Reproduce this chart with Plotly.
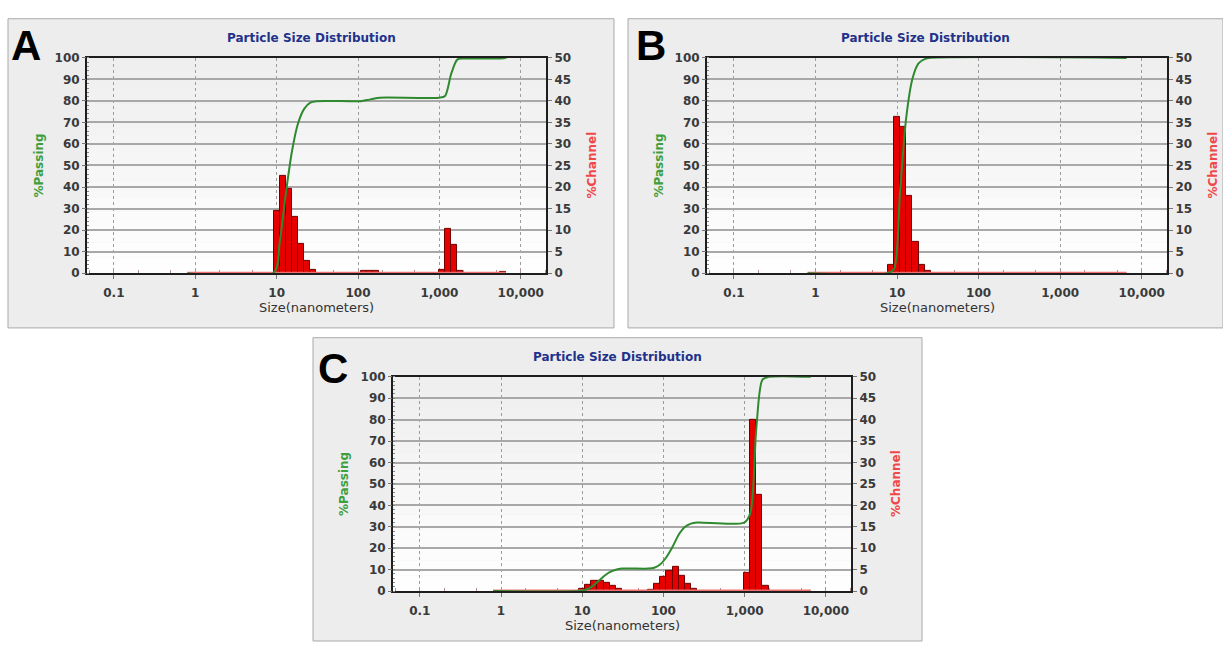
import numpy as np
import plotly.graph_objects as go

# ---------------------------------------------------------------------------
# Particle size distributions (Nanotrac-style output) for three samples.
# Channel centres in nm and the volume percentage in each channel.
# ---------------------------------------------------------------------------
sizes_a = [10.0, 11.89, 14.14, 16.82, 20.0, 23.78, 28.28,
           118.9, 141.4, 168.2,
           1076, 1280, 1522, 1810,
           6089]
channel_a = [14.4, 22.5, 19.6, 13.1, 6.7, 2.9, 0.7,
             0.5, 0.6, 0.5,
             0.8, 10.3, 6.6, 0.5,
             0.3]

sizes_b = [8.41, 10.0, 11.89, 14.14, 16.82, 20.0, 23.78]
channel_b = [1.9, 36.4, 34.0, 17.9, 7.2, 2.0, 0.6]

sizes_c = [10.0, 11.89, 14.14, 16.82, 20.0, 23.78, 28.28,
           70.71, 84.09, 100.0, 118.9, 141.4, 168.2, 200.0, 237.8,
           1076, 1280, 1522, 1810]
channel_c = [0.5, 1.5, 2.3, 2.5, 2.0, 1.2, 0.5,
             0.4, 1.6, 3.4, 4.8, 5.6, 3.6, 1.6, 0.5,
             4.3, 40.0, 22.4, 1.3]

panel_labels = ["A", "B", "C"]
chart_title = "Particle Size Distribution"
size_ticks = [0.1, 1, 10, 100, 1000, 10000]
size_tick_text = ["0.1", "1", "10", "100", "1,000", "10,000"]

SIZE_MIN, SIZE_MAX = 0.8, 6540      # analyser measuring range, nm
CHANNEL_RATIO = 2 ** 0.25           # geometric channel progression

# ---------------------------------------------------------------------------
# Page geometry (pixels, origin top-left)
# ---------------------------------------------------------------------------
W, H = 1223, 648
LAYOUT = [
    dict(box=(8, 12, 614, 328), plot=(87, 52, 546, 272), letter=(26, 39)),
    dict(box=(628, 12, 1223, 328), plot=(707, 52, 1167, 272), letter=(651, 39)),
    dict(box=(313, 338, 922, 648), plot=(393, 378, 851, 597), letter=(333, 369)),
]
DATA = [(sizes_a, channel_a), (sizes_b, channel_b), (sizes_c, channel_c)]

GREEN = "#2f8a2f"
RED_FILL = "#e60000"
RED_EDGE = "#6e0000"
TICK_FONT = dict(family="DejaVu Sans", size=12, color="#3a3a3a", weight="bold")


def px(x):
    return x / W


def py(y):
    return 1 - y / H


def channel_edges(sizes):
    half = CHANNEL_RATIO ** 0.5
    c = np.asarray(sizes, dtype=float)
    return c / half, c * half


def passing_curve(sizes, channel):
    """Cumulative %passing evaluated at channel edges."""
    lo, hi = channel_edges(sizes)
    xs, ys = [SIZE_MIN], [0.0]
    total = 0.0
    prev_hi = None
    for l, h, v in zip(lo, hi, channel):
        if prev_hi is None or abs(np.log10(l / prev_hi)) > 1e-3:
            xs.append(l)
            ys.append(total)
        total += v
        xs.append(h)
        ys.append(total)
        prev_hi = h
    xs.append(SIZE_MAX)
    ys.append(total)
    return xs, ys


fig = go.Figure()
shapes = []
annotations = []
layout_axes = {}

for i, ((sizes, channel), geo) in enumerate(zip(DATA, LAYOUT)):
    n = i + 1
    xname = "x" if n == 1 else f"x{n}"
    ych = "y" if n == 1 else f"y{n}"          # %Channel (right)
    ypa = f"y{n + 3}"                          # %Passing (left, overlay)
    xkey = "xaxis" if n == 1 else f"xaxis{n}"
    ychkey = "yaxis" if n == 1 else f"yaxis{n}"
    ypakey = f"yaxis{n + 3}"

    x0, y0, x1, y1 = geo["plot"]
    bx0, by0, bx1, by1 = geo["box"]

    # panel background
    shapes.append(dict(type="rect", xref="paper", yref="paper",
                       x0=px(bx0), x1=px(bx1), y0=py(by1), y1=py(by0),
                       fillcolor="#ededed", line=dict(color="#a9a9a9", width=1),
                       layer="below"))
    # plot-area vertical gradient
    nb = 14
    for k in range(nb):
        g = int(round(255 - (255 - 238) * (k + 0.5) / nb))
        shapes.append(dict(type="rect", xref=f"{xname} domain", yref=f"{ych} domain",
                           x0=0, x1=1, y0=k / nb, y1=(k + 1) / nb,
                           fillcolor=f"rgb({g},{g},{g})", line=dict(width=0),
                           layer="below"))

    # %Channel bars
    lo, hi = channel_edges(sizes)
    fig.add_trace(go.Bar(
        x=(lo + hi) / 2, y=channel, width=hi - lo,
        xaxis=xname, yaxis=ych,
        marker=dict(color=RED_FILL, line=dict(color=RED_EDGE, width=1)),
        showlegend=False, hoverinfo="skip"))
    # zero-level %Channel trace across the measuring range
    fig.add_trace(go.Scatter(
        x=[SIZE_MIN, SIZE_MAX], y=[0, 0], mode="lines",
        line=dict(color="#f07070", width=3),
        xaxis=xname, yaxis=ych, showlegend=False, hoverinfo="skip"))
    # %Passing cumulative curve
    cx, cy = passing_curve(sizes, channel)
    fig.add_trace(go.Scatter(
        x=cx, y=cy, mode="lines",
        line=dict(color=GREEN, width=2, shape="spline", smoothing=0.8),
        xaxis=xname, yaxis=ypa, showlegend=False, hoverinfo="skip"))

    dom_x = [px(x0), px(x1)]
    dom_y = [py(y1), py(y0)]

    layout_axes[xkey] = dict(
        type="log", range=[-1.33, 4.31], domain=dom_x, anchor=ych,
        tickmode="array", tickvals=size_ticks, ticktext=size_tick_text,
        ticks="outside", ticklen=4, tickcolor="#777", ticklabelstandoff=3,
        tickfont=TICK_FONT,
        showgrid=True, gridcolor="#9c9c9c", gridwidth=1, griddash="dot",
        showline=True, linecolor="#1e1e1e", linewidth=2, mirror=True,
        layer="below traces", zeroline=False,
        minor=dict(ticks="inside", ticklen=3, tickcolor="#b09090", dtick="D2",
                   showgrid=False),
    )
    layout_axes[ychkey] = dict(
        domain=dom_y, anchor=xname, side="right", range=[0, 50],
        tickmode="linear", tick0=0, dtick=5,
        ticks="outside", ticklen=4, tickcolor="#777", tickfont=TICK_FONT,
        showgrid=True, gridcolor="#a8a8a8", gridwidth=1.5,
        showline=True, linecolor="#1e1e1e", linewidth=2, mirror=True,
        layer="below traces", zeroline=False,
    )
    layout_axes[ypakey] = dict(
        overlaying=ych, anchor=xname, side="left", range=[0, 100],
        tickmode="linear", tick0=0, dtick=10,
        ticks="outside", ticklen=4, tickcolor="#777", tickfont=TICK_FONT,
        showgrid=False, showline=False, zeroline=False,
        minor=dict(ticks="inside", ticklen=2, tickcolor="#888", dtick=2),
    )

    cx_mid = (x0 + x1) / 2
    cy_mid = (y0 + y1) / 2
    # chart title
    annotations.append(dict(
        text=chart_title, xref="paper", yref="paper",
        x=px((bx0 + bx1) / 2), y=py(y0 - 20), xanchor="center", yanchor="middle",
        showarrow=False,
        font=dict(family="DejaVu Sans", size=12, color="#22318a", weight="bold")))
    # axis titles
    annotations.append(dict(
        text="Size(nanometers)", xref="paper", yref="paper",
        x=px(cx_mid), y=py(y1 + 35), xanchor="center", yanchor="middle",
        showarrow=False, font=dict(family="DejaVu Sans", size=13, color="#333333")))
    annotations.append(dict(
        text="%Passing", xref="paper", yref="paper",
        x=px(x0 - 49), y=py(cy_mid), xanchor="center", yanchor="middle",
        textangle=-90, showarrow=False,
        font=dict(family="DejaVu Sans", size=12, color="#3f9f3f", weight="bold")))
    annotations.append(dict(
        text="%Channel", xref="paper", yref="paper",
        x=px(x1 + 45), y=py(cy_mid), xanchor="center", yanchor="middle",
        textangle=-90, showarrow=False,
        font=dict(family="DejaVu Sans", size=12, color="#f04848", weight="bold")))
    # panel letter
    lx, ly = geo["letter"]
    annotations.append(dict(
        text=panel_labels[i], xref="paper", yref="paper",
        x=px(lx), y=py(ly), xanchor="center", yanchor="middle", showarrow=False,
        font=dict(family="Liberation Sans", size=42, color="#000000", weight="bold")))

fig.update_layout(
    width=W, height=H,
    margin=dict(l=0, r=0, t=0, b=0),
    paper_bgcolor="#ffffff", plot_bgcolor="rgba(0,0,0,0)",
    showlegend=False, bargap=0,
    shapes=shapes, annotations=annotations,
    **layout_axes,
)

fig.write_html("out.html")
